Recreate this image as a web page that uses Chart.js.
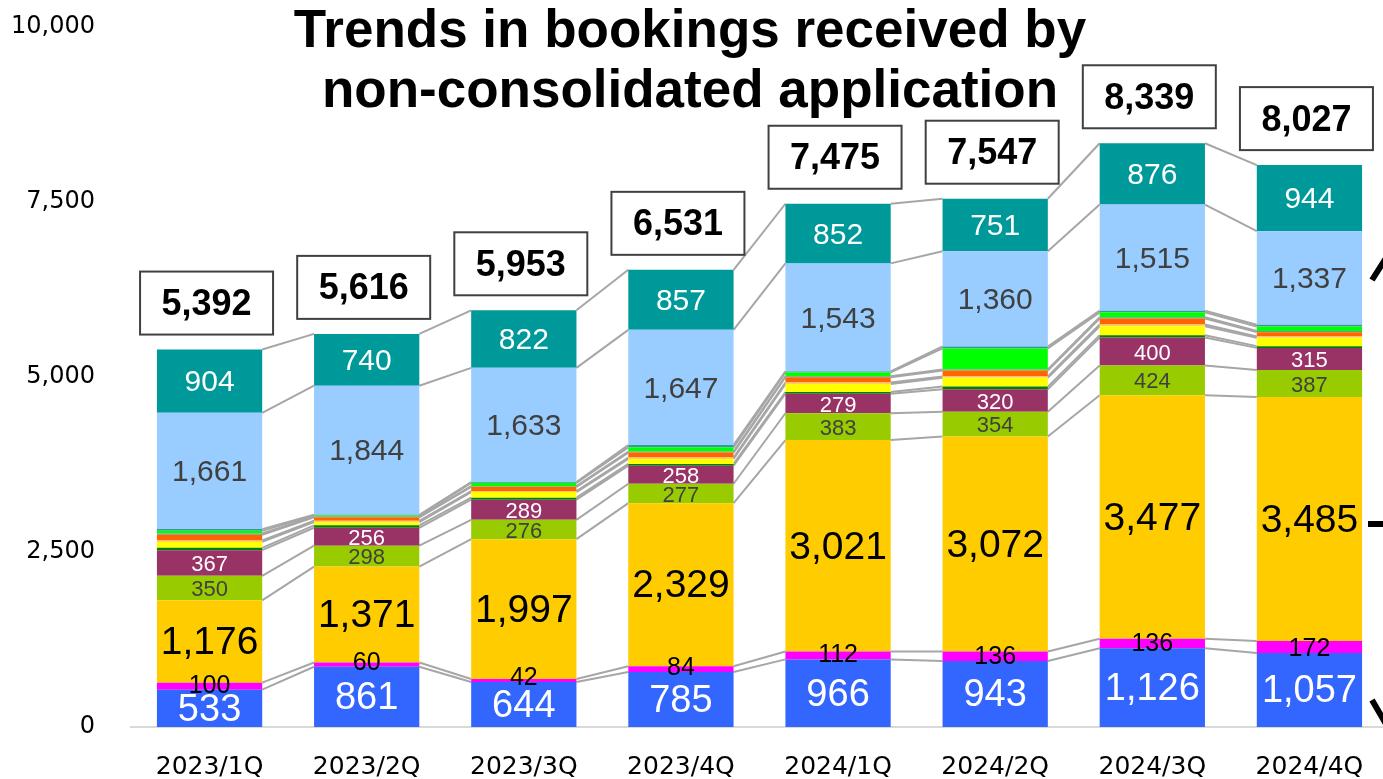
<!DOCTYPE html>
<html>
<head>
<meta charset="utf-8">
<script src="https://cdn.jsdelivr.net/npm/chart.js@4"></script>
<style>
  html, body { margin: 0; padding: 0; background: #fff; overflow: hidden; }
  #wrap { width: 1389px; height: 779px; }
</style>
</head>
<body>
<div id="wrap"><canvas id="myChart"></canvas></div>
<script>
// quarters and totals
const categories = ['2023/1Q', '2023/2Q', '2023/3Q', '2023/4Q', '2024/1Q', '2024/2Q', '2024/3Q', '2024/4Q'];
const totals = [5392, 5616, 5953, 6531, 7475, 7547, 8339, 8027];
const yTicks = [0, 2500, 5000, 7500, 10000];

// series, bottom to top
const blueVals = [533, 861, 644, 785, 966, 943, 1126, 1057];
const magentaVals = [100, 60, 42, 84, 112, 136, 136, 172];
const goldVals = [1176, 1371, 1997, 2329, 3021, 3072, 3477, 3485];
const limeVals = [350, 298, 276, 277, 383, 354, 424, 387];
const maroonVals = [367, 256, 289, 258, 279, 320, 400, 315];
const darkGreenVals = [33, 35, 28, 25, 25, 38, 33, 25];
const yellowVals = [85, 45, 80, 72, 115, 125, 129, 118];
const lightOrangeVals = [22, 20, 15, 20, 20, 20, 24, 20];
const orangeVals = [80, 50, 60, 70, 75, 85, 86, 62];
const slateVals = [20, 10, 10, 15, 15, 15, 18, 15];
const greenVals = [36, 14, 45, 60, 55, 300, 71, 65];
const tealThinVals = [25, 12, 12, 32, 14, 28, 24, 25];
const skyVals = [1661, 1844, 1633, 1647, 1543, 1360, 1515, 1337];
const tealVals = [904, 740, 822, 857, 852, 751, 876, 944];

const fmt = v => v.toLocaleString('en-US');

function ds(data, color, label) {
  return { data: data, backgroundColor: color, borderWidth: 0, label: label };
}

const datasets = [
  ds(blueVals, '#3366FF', { color: '#ffffff', size: 38, pos: 'mid' }),
  ds(magentaVals, '#FF00FF', { color: '#000000', size: 25, pos: 'low' }),
  ds(goldVals, '#FFCC00', { color: '#000000', size: 39, pos: 'mid' }),
  ds(limeVals, '#99CC00', { color: '#404040', size: 22, pos: 'mid' }),
  ds(maroonVals, '#993366', { color: '#ffffff', size: 22, pos: 'mid' }),
  ds(darkGreenVals, '#008000', null),
  ds(yellowVals, '#FFFF00', null),
  ds(lightOrangeVals, '#FFCC66', null),
  ds(orangeVals, '#FF6600', null),
  ds(slateVals, '#669999', null),
  ds(greenVals, '#00FF00', null),
  ds(tealThinVals, '#339999', null),
  ds(skyVals, '#99CCFF', { color: '#404040', size: 30, pos: 'mid' }),
  ds(tealVals, '#009999', { color: '#ffffff', size: 30, pos: 'mid' })
].map(d => Object.assign(d, { segLabel: d.label, label: '' }));

const drawExtras = {
  id: 'drawExtras',
  beforeDatasetsDraw(chart) {
    // connector lines between segment tops
    const ctx = chart.ctx;
    ctx.save();
    ctx.strokeStyle = '#A6A6A6';
    ctx.lineWidth = 2;
    chart.data.datasets.forEach((d, di) => {
      const els = chart.getDatasetMeta(di).data;
      for (let i = 0; i < els.length - 1; i++) {
        const a = els[i], b = els[i + 1];
        ctx.beginPath();
        ctx.moveTo(a.x + a.width / 2, a.y);
        ctx.lineTo(b.x - b.width / 2, b.y);
        ctx.stroke();
      }
    });
    ctx.restore();
  },
  afterDatasetsDraw(chart) {
    const ctx = chart.ctx;
    ctx.save();
    ctx.textAlign = 'center';
    ctx.textBaseline = 'middle';
    chart.data.datasets.forEach((d, di) => {
      const lab = d.segLabel;
      if (!lab) return;
      const els = chart.getDatasetMeta(di).data;
      ctx.font = lab.size + 'px "Liberation Sans", Arial, sans-serif';
      ctx.fillStyle = lab.color;
      els.forEach((el, i) => {
        const y = lab.pos === 'low' ? el.base - 4 : (el.y + el.base) / 2 + 2;
        ctx.fillText(fmt(d.data[i]), el.x, y);
      });
    });

    // total boxes
    const top = chart.getDatasetMeta(chart.data.datasets.length - 1).data;
    ctx.font = 'bold 36px "Liberation Sans", Arial, sans-serif';
    top.forEach((el, i) => {
      const w = 133, h = 63;
      const cx = el.x - 3;
      const bottom = el.y - 15;
      ctx.fillStyle = '#ffffff';
      ctx.fillRect(cx - w / 2, bottom - h, w, h);
      ctx.strokeStyle = '#404040';
      ctx.lineWidth = 2;
      ctx.strokeRect(cx - w / 2, bottom - h, w, h);
      ctx.fillStyle = '#000000';
      ctx.fillText(fmt(totals[i]), cx, bottom - h / 2 + 2);
    });

    // title
    ctx.font = 'bold 53px "Liberation Sans", Arial, sans-serif';
    ctx.textBaseline = 'alphabetic';
    ctx.fillStyle = '#000000';
    ctx.fillText('Trends in bookings received by', 690, 47);
    ctx.fillText('non-consolidated application', 690, 107);

    // cut-off marks at right edge
    ctx.strokeStyle = '#000000';
    ctx.lineWidth = 6;
    ctx.beginPath();
    ctx.moveTo(1372, 280); ctx.lineTo(1386, 258);
    ctx.moveTo(1368, 524); ctx.lineTo(1386, 524);
    ctx.moveTo(1372, 700); ctx.lineTo(1386, 724);
    ctx.stroke();
    ctx.restore();
  }
};

new Chart(document.getElementById('myChart'), {
  type: 'bar',
  data: { labels: categories, datasets: datasets },
  options: {
    responsive: true,
    maintainAspectRatio: false,
    animation: false,
    layout: { padding: { top: 27, right: 1, left: 0, bottom: 0 } },
    plugins: { legend: { display: false }, tooltip: { enabled: false }, title: { display: false } },
    datasets: { bar: { categoryPercentage: 1, barPercentage: 0.67 } },
    scales: {
      x: {
        stacked: true,
        grid: { display: false, drawTicks: false },
        border: { color: '#D9D9D9', width: 2 },
        ticks: { color: '#000000', padding: 25, font: { family: '"DejaVu Sans", sans-serif', size: 25 } },
        afterFit(scale) { scale.height = 52; }
      },
      y: {
        stacked: true,
        min: 0,
        max: 10000,
        afterBuildTicks(scale) { scale.ticks = yTicks.map(v => ({ value: v })); },
        grid: { display: false, drawTicks: false },
        border: { display: false },
        ticks: {
          color: '#000000',
          padding: 36,
          font: { family: '"DejaVu Sans", sans-serif', size: 24 },
          callback: v => fmt(v)
        },
        afterFit(scale) {
          scale.width = 131;
          scale.paddingTop = 0;
          scale.paddingBottom = 0;
        }
      }
    }
  },
  plugins: [drawExtras]
});
</script>
</body>
</html>
